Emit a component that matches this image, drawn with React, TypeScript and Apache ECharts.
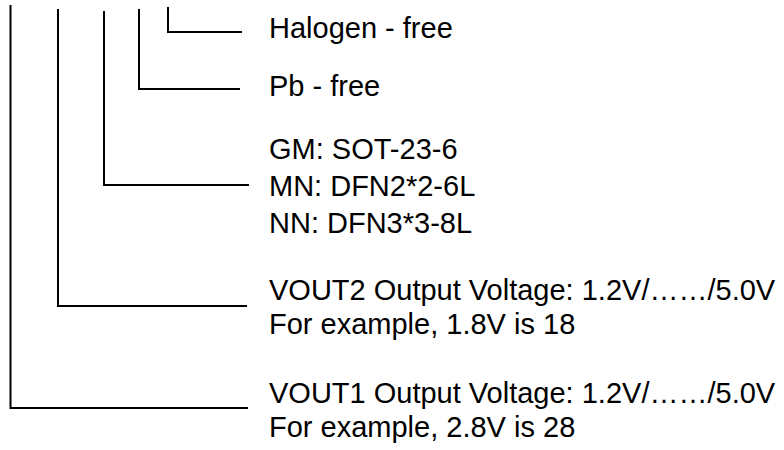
import React, { useEffect, useRef } from "react";
import * as echarts from "echarts";

// Labels of the ordering-information tree, top to bottom
const labels: string[] = [
  "Halogen - free",
  "Pb - free",
  "GM: SOT-23-6",
  "MN: DFN2*2-6L",
  "NN: DFN3*3-8L",
  "VOUT2 Output Voltage: 1.2V/……/5.0V",
  "For example, 1.8V is 18",
  "VOUT1 Output Voltage: 1.2V/……/5.0V",
  "For example, 2.8V is 28",
];

// Layout (positions kept separate from the content)
const labelX = 269;
const labelY: number[] = [28, 86, 149, 186, 223, 290, 324, 393, 427];

// Bracket lines: [xVertical, yTop, yCorner, xEnd]
const brackets: number[][] = [
  [10.5, 5, 408, 248],
  [58, 9, 306, 247],
  [104, 11, 185, 249],
  [139, 9, 89, 240],
  [168, 7, 32, 242],
];

export default function App() {
  const ref = useRef<HTMLDivElement>(null);
  useEffect(() => {
    document.body.style.margin = "0";
    if (!ref.current) return;
    const chart = echarts.init(ref.current, undefined, { renderer: "svg" });
    const graphics: any[] = [];
    brackets.forEach((b) => {
      graphics.push({
        type: "polyline",
        shape: { points: [[b[0], b[1]], [b[0], b[2]], [b[3], b[2]]] },
        style: { stroke: "#000", lineWidth: 2, fill: null },
      });
    });
    labels.forEach((t, i) => {
      graphics.push({
        type: "text",
        x: labelX,
        y: labelY[i],
        style: {
          text: t,
          fill: "#000",
          fontFamily: "Liberation Sans",
          fontSize: 29,
          align: "left",
          verticalAlign: "middle",
        },
      });
    });
    chart.setOption({
      animation: false,
      backgroundColor: "#fff",
      graphic: graphics,
    });
    return () => chart.dispose();
  }, []);
  return <div ref={ref} style={{ width: 784, height: 450 }} />;
}
